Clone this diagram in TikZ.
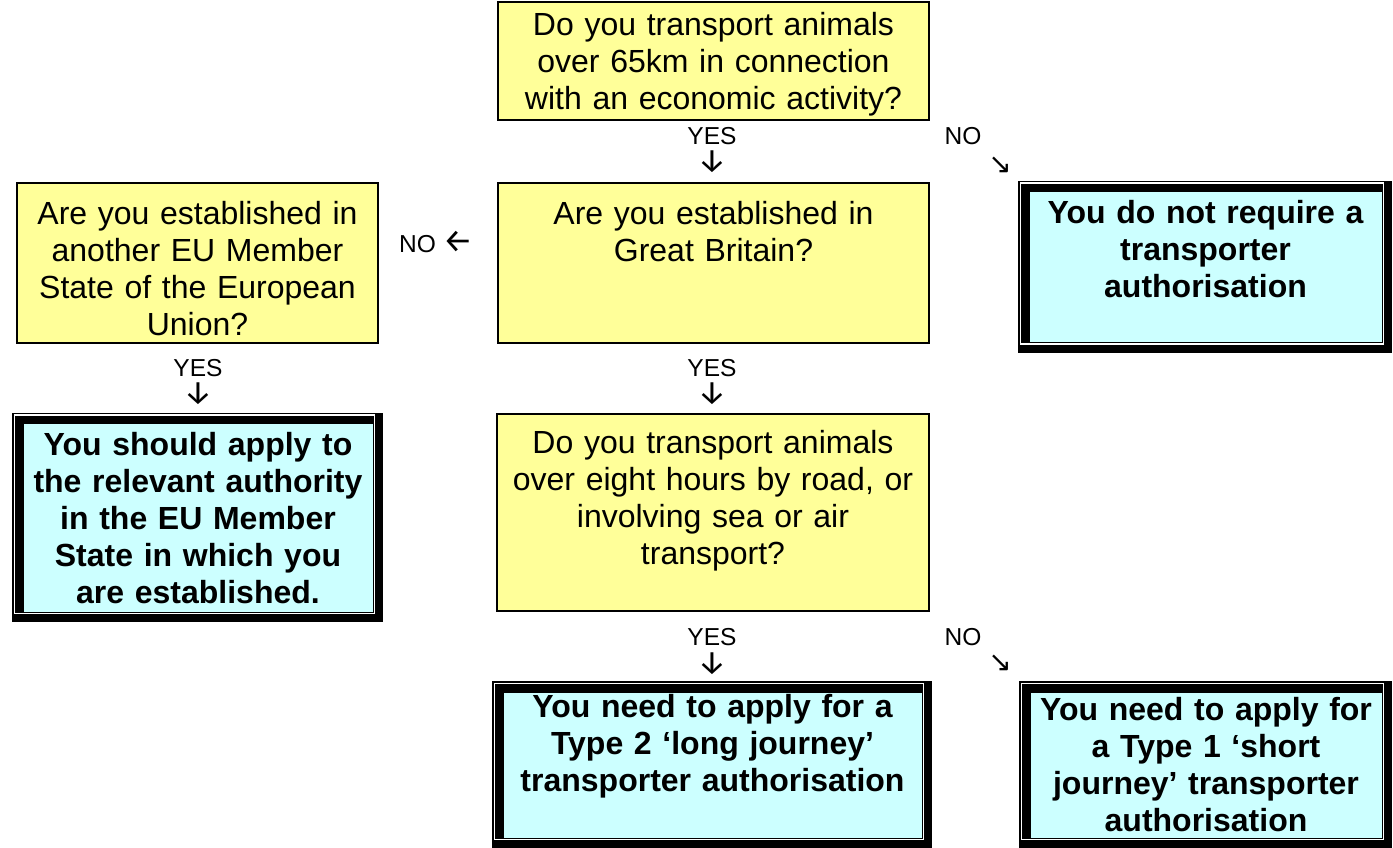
\documentclass[tikz,border=0pt]{standalone}
\usepackage{fontspec}
\setmainfont{Liberation Sans}
\newfontfamily\arrowfont{Fira Sans}
\newfontfamily\diagfont{DejaVu Sans}
\definecolor{qyellow}{RGB}{255,255,153}
\definecolor{acyan}{RGB}{204,255,255}

\tikzset{every picture/.style={line width=0.75pt}}
\tikzset{
  qbox/.style={draw=black, line width=1.5pt, fill=qyellow, inner sep=0pt, align=center, anchor=north west, font=\fontsize{24}{27.75}\selectfont},
  abox/.style={fill=acyan, inner sep=0pt, align=center, anchor=north west, font=\fontsize{24}{27.75}\selectfont\bfseries},
  lbl/.style={inner sep=0pt, anchor=base, font=\fontsize{18.4}{21}\selectfont},
  arr/.style={inner sep=0pt, anchor=base, text height=14pt, font=\fontsize{24.5}{27}\selectfont\arrowfont},
  darr/.style={inner sep=0pt, anchor=center, font=\fontsize{21}{24}\selectfont\diagfont}
}

\begin{document}
\begin{tikzpicture}[x=0.75pt,y=0.75pt,yscale=-1,xscale=1]
\useasboundingbox (0,0) rectangle (1393,848);

% frames of the answer boxes (thin-thick border with shadow)
\foreach \xa/\ya/\xb/\yb in {1018/181/1392/353, 12/413/383/622, 492/681/932/848, 1019/681/1392/848}{
  \fill (\xa,\ya) rectangle (\xb,\yb);
  \fill[white] ({\xa+1.5},{\ya+1.5}) rectangle ({\xb-8},{\yb-8});
  \fill ({\xa+3},{\ya+3}) rectangle ({\xb-9.5},{\yb-9.5});
}

% Questions
\node[qbox, text width=323.25pt, text height=25.5pt, text depth=63pt] (q65) at (497,1) {Do you transport animals\\over 65km in connection\\with an economic activity?};
\node[qbox, text width=323.25pt, text height=31.5pt, text depth=88.5pt] (qgb) at (497,182) {Are you established in\\Great Britain?};
\node[qbox, text width=270.75pt, text height=31.5pt, text depth=88.5pt] (qeu) at (16,182) {Are you established in\\another EU Member\\State of the European\\Union?};
\node[qbox, text width=324pt, text height=30pt, text depth=117.75pt] (qlong) at (496,413) {Do you transport animals\\over eight hours by road, or\\involving sea or air\\transport?};

% Answers
\node[abox, text width=264pt, text height=23.25pt, text depth=89.25pt] (notreq) at (1029,192) {You do not require a\\transporter\\authorisation};
\node[abox, text width=261.75pt, text height=23.25pt, text depth=117pt] (euapply) at (23,424) {You should apply to\\the relevant authority\\in the EU Member\\State in which you\\are established.};
\node[abox, text width=313.5pt, text height=18.75pt, text depth=90pt] (typetwo) at (503,692) {You need to apply for a\\Type 2 `long journey'\\transporter authorisation};
\node[abox, text width=263.25pt, text height=21pt, text depth=87.75pt] (typeone) at (1030,692) {You need to apply for\\a Type 1 `short\\journey' transporter\\authorisation};

% YES / NO labels
\node[lbl] (yesa) at (712,145) {YES};
\node[arr] (yesaarr) at (712,172) {↓};
\node[lbl] (noa) at (963,145) {NO};
\node[darr] (noaarr) at (1000,165) {↘};

\node[lbl] (nob) at (436,253) {NO {\fontsize{25}{28}\selectfont\arrowfont ←}};

\node[lbl] (yesb) at (198,377) {YES};
\node[arr] (yesbarr) at (198,404) {↓};
\node[lbl] (yesc) at (712,377) {YES};
\node[arr] (yescarr) at (712,404) {↓};

\node[lbl] (yesd) at (712,645) {YES};
\node[arr] (yesdarr) at (712,673) {↓};
\node[lbl] (nod) at (963,645) {NO};
\node[darr] (nodarr) at (1000,663) {↘};

\end{tikzpicture}
\end{document}
